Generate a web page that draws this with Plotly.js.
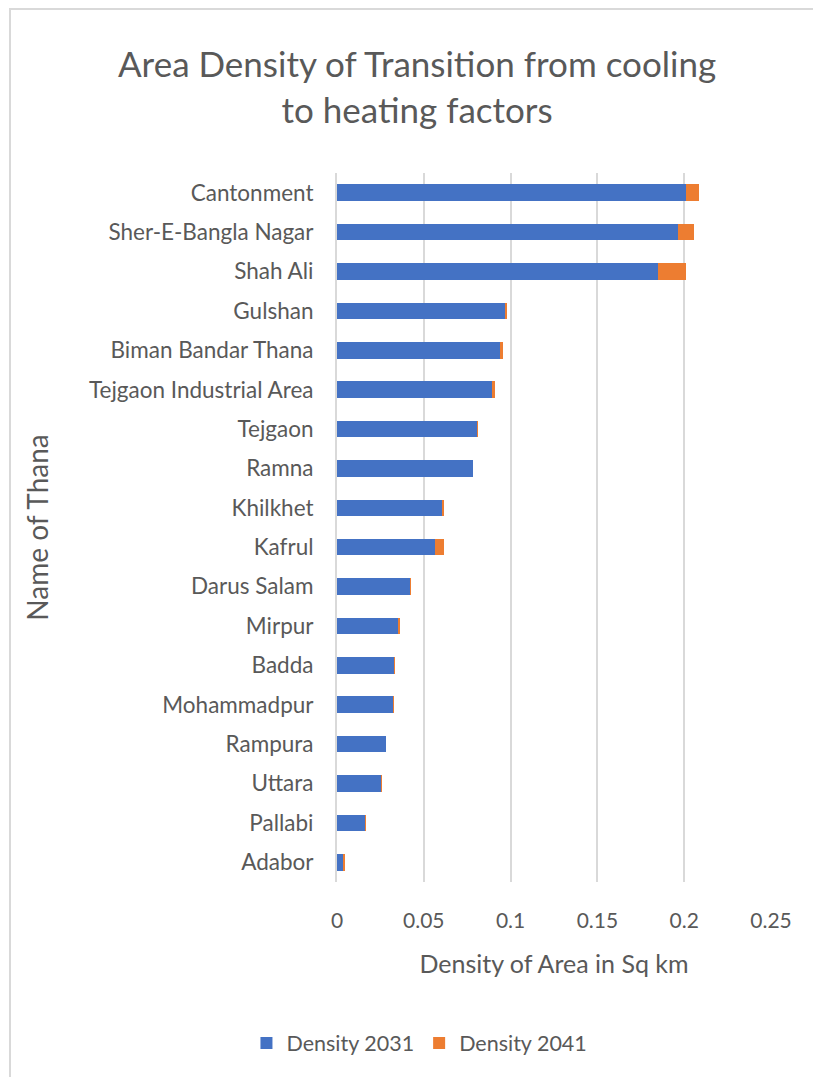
<!DOCTYPE html>
<html>
<head>
<meta charset="utf-8">
<script src="https://cdn.plot.ly/plotly-3.0.1.min.js"></script>
<style>
  html, body { margin: 0; padding: 0; background: #ffffff; overflow: hidden; }
  #frame { position: absolute; left: 9px; top: 8px; width: 900px; height: 1200px;
           border-left: 2px solid #d9d9d9; border-top: 2px solid #d9d9d9; box-sizing: border-box; }
  #chart { position: absolute; left: 0; top: 0; width: 813px; height: 1077px; }
</style>
</head>
<body>
<div id="frame"></div>
<div id="chart"></div>
<script>
const thanas = ["Cantonment", "Sher-E-Bangla Nagar", "Shah Ali", "Gulshan", "Biman Bandar Thana",
  "Tejgaon Industrial Area", "Tejgaon", "Ramna", "Khilkhet", "Kafrul", "Darus Salam", "Mirpur",
  "Badda", "Mohammadpur", "Rampura", "Uttara", "Pallabi", "Adabor"];
const density2031 = [0.2010, 0.1966, 0.1847, 0.0969, 0.0938, 0.0894, 0.0805, 0.0781, 0.0602, 0.0566,
  0.0423, 0.0350, 0.0328, 0.0321, 0.0280, 0.0253, 0.0163, 0.0036];
const density2041 = [0.0077, 0.0090, 0.0163, 0.0013, 0.0021, 0.0014, 0.0006, 0.0002, 0.0015, 0.0052,
  0.0002, 0.0013, 0.0006, 0.0005, 0.0002, 0.0006, 0.0006, 0.0008];
const xTicks = [0, 0.05, 0.1, 0.15, 0.2, 0.25];
const xTickText = ["0", "0.05", "0.1", "0.15", "0.2", "0.25"];
const titleLines = ["Area Density of Transition from cooling", "to heating factors"];

const FONT = "Lato, 'Liberation Sans', sans-serif";
const GREY = "#595959";

const traces = [
  { type: "bar", orientation: "h", name: "Density 2031", y: thanas, x: density2031,
    marker: { color: "#4472C4" }, hoverinfo: "x+y" },
  { type: "bar", orientation: "h", name: "Density 2041", y: thanas, x: density2041,
    marker: { color: "#ED7D31" }, hoverinfo: "x+y" }
];

const layout = {
  width: 813, height: 1077,
  paper_bgcolor: "rgba(0,0,0,0)", plot_bgcolor: "rgba(0,0,0,0)",
  font: { family: FONT, color: GREY, size: 18 },
  margin: { l: 337, r: 42, t: 173, b: 195, autoexpand: false },
  barmode: "stack",
  bargap: 0.58,
  title: {
    text: titleLines.join("<br>"),
    font: { family: FONT, size: 35, color: GREY },
    xref: "container", x: 0.513, xanchor: "center",
    yref: "container", y: 0.9285, yanchor: "middle"
  },
  xaxis: {
    range: [0, 0.25], tickvals: xTicks, ticktext: xTickText,
    showgrid: true, gridcolor: "#d9d9d9", gridwidth: 2,
    zeroline: false, showline: false,
    ticks: "outside", ticklen: 20, tickcolor: "rgba(0,0,0,0)",
    tickfont: { family: FONT, size: 21, color: GREY },
    title: { text: "Density of Area in Sq km", font: { family: FONT, size: 25, color: GREY }, standoff: 24 },
    automargin: false, fixedrange: true
  },
  yaxis: {
    autorange: "reversed", type: "category",
    showgrid: false, zeroline: false, showline: true, linecolor: "#d9d9d9", linewidth: 2,
    ticks: "outside", ticklen: 17, tickcolor: "rgba(0,0,0,0)",
    tickfont: { family: FONT, size: 22.5, color: GREY },
    title: { text: "Name of Thana", font: { family: FONT, size: 28, color: GREY }, standoff: 32 },
    automargin: false, fixedrange: true
  },
  showlegend: true,
  legend: {
    orientation: "h", x: 0.19, xanchor: "center", y: -0.227, yanchor: "middle",
    font: { family: FONT, size: 21.5, color: GREY },
    itemwidth: 30, traceorder: "normal"
  }
};

Plotly.newPlot("chart", traces, layout, { displayModeBar: false, staticPlot: true });
</script>
</body>
</html>
